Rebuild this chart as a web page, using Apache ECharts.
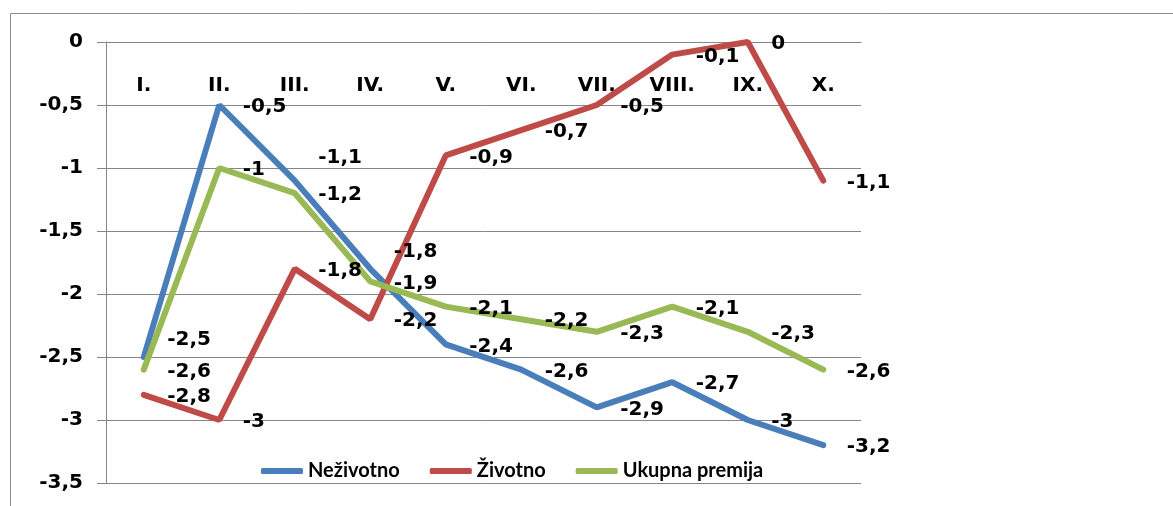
<!DOCTYPE html>
<html>
<head>
<meta charset="utf-8">
<script src="https://cdn.jsdelivr.net/npm/echarts@6/dist/echarts.min.js"></script>
<style>
  html, body { margin: 0; padding: 0; background: #fff; }
  #chart { width: 1173px; height: 506px; }
</style>
</head>
<body>
<div id="chart"></div>
<script>
// podaci sa slike
const months = ['I.', 'II.', 'III.', 'IV.', 'V.', 'VI.', 'VII.', 'VIII.', 'IX.', 'X.'];
const nezivotno = [-2.5, -0.5, -1.1, -1.8, -2.4, -2.6, -2.9, -2.7, -3, -3.2];
const zivotno = [-2.8, -3, -1.8, -2.2, -0.9, -0.7, -0.5, -0.1, 0, -1.1];
const ukupno = [-2.6, -1, -1.2, -1.9, -2.1, -2.2, -2.3, -2.1, -2.3, -2.6];

const numFont = 'DejaVu Sans';
const legendFont = 'Lato';
const fmt = v => String(v).replace('.', ',');

// pomaci oznaka koje su u originalu pomaknute
const nezivotnoShift = { 0: [0, -17], 2: [0, -23], 3: [0, -17] };

function withShift(values, shift) {
  return values.map((v, i) => shift[i] ? { value: v, label: { offset: shift[i] } } : v);
}

function lineSeries(name, color, data) {
  return {
    name: name,
    type: 'line',
    data: data,
    symbol: 'circle',
    symbolSize: 1,
    itemStyle: { color: color },
    lineStyle: { color: color, width: 6, cap: 'round' },
    label: {
      show: true,
      position: 'right',
      distance: 23,
      offset: [0, 2],
      color: '#000',
      fontFamily: numFont,
      fontWeight: 'bold',
      fontSize: 20,
      formatter: p => fmt(p.value)
    },
    emphasis: { disabled: true },
    animation: false
  };
}

var myChart = echarts.init(document.getElementById('chart'));
myChart.setOption({
  animation: false,
  graphic: [{
    type: 'rect',
    shape: { x: 10.5, y: 13.5, width: 1300, height: 600 },
    style: { fill: 'none', stroke: '#8c8c8c', lineWidth: 1 },
    silent: true
  }],
  grid: { left: 106, right: 312, top: 42, bottom: 23 },
  legend: {
    left: 256,
    top: 456,
    itemWidth: 42,
    itemHeight: 6,
    itemGap: 30,
    icon: 'roundRect',
    textStyle: { fontFamily: legendFont, fontWeight: 'bold', fontSize: 20, color: '#000' },
    data: ['Neživotno', 'Životno', 'Ukupna premija']
  },
  xAxis: {
    type: 'category',
    position: 'top',
    data: months,
    axisLine: { lineStyle: { color: '#868686' } },
    axisTick: { inside: true, length: 8, lineStyle: { color: '#868686' } },
    axisLabel: {
      inside: true,
      margin: 34,
      color: '#000',
      fontFamily: numFont,
      fontWeight: 'bold',
      fontSize: 20
    }
  },
  yAxis: {
    type: 'value',
    min: -3.5,
    max: 0,
    interval: 0.5,
    axisLine: { show: true, lineStyle: { color: '#868686' } },
    axisTick: { show: true, length: 9, lineStyle: { color: '#868686' } },
    splitLine: { lineStyle: { color: '#868686' } },
    axisLabel: {
      margin: 23,
      color: '#000',
      fontFamily: numFont,
      fontWeight: 'bold',
      fontSize: 20,
      formatter: v => fmt(v)
    }
  },
  series: [
    lineSeries('Neživotno', '#4a7ebb', withShift(nezivotno, nezivotnoShift)),
    lineSeries('Životno', '#be4b48', zivotno),
    lineSeries('Ukupna premija', '#98b954', ukupno)
  ]
});
</script>
</body>
</html>
